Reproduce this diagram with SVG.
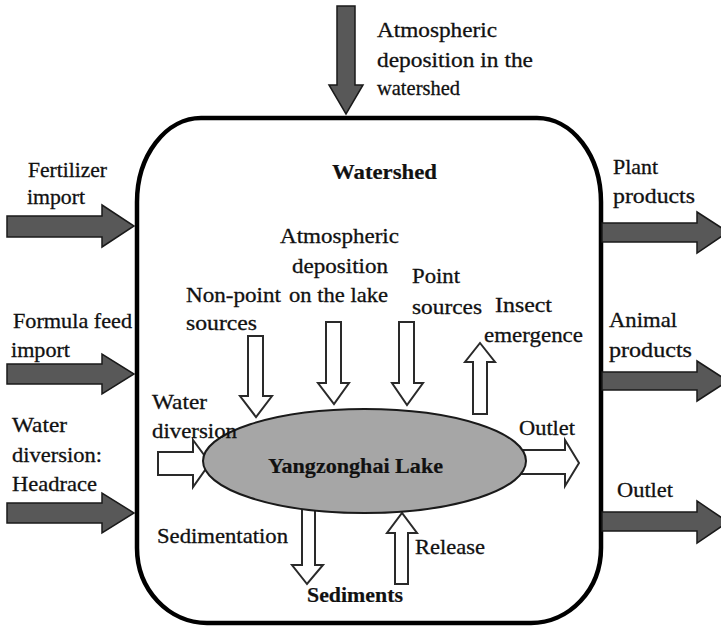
<svg xmlns="http://www.w3.org/2000/svg" width="721" height="628" viewBox="0 0 721 628">
<style>
text{font-family:'Liberation Serif','DejaVu Serif','Times New Roman',serif;font-size:21px;fill:#111;stroke:#111;stroke-width:0.3}
.b{font-weight:bold;stroke-width:0.2}
.dark{fill:#585858;stroke:#1a1a1a;stroke-width:1.5;stroke-linejoin:miter}
.white{fill:#fff;stroke:#2a2a2a;stroke-width:2;stroke-linejoin:miter}
.box{fill:none;stroke:#000;stroke-width:4.5}
.lake{fill:#a6a6a6;stroke:#1a1a1a;stroke-width:2}
</style>
<rect width="721" height="628" fill="#fff"/>
<g id="watershed">
<path class="box" d="M201,118 H537 A64 84 0 0 1 601 202 V548 A70 75 0 0 1 531 623 H207 A70 75 0 0 1 137 548 V202 A64 84 0 0 1 201 118 Z"/>
<text class="b" x="332" y="179" textLength="105" lengthAdjust="spacingAndGlyphs">Watershed</text>
</g>
<g id="connectors">
<polygon class="dark" points="337,6 355,6 355,85 363,85 346,114 329,85 337,85"/>
<polygon class="dark" points="7,216 102,216 102,205 134,226 102,247 102,237 7,237"/>
<polygon class="dark" points="7,364 102,364 102,354 134,374 102,394 102,384 7,384"/>
<polygon class="dark" points="7,503 102,503 102,493 134,513 102,533 102,523 7,523"/>
<polygon class="dark" points="602,223 697,223 697,212 728,232 697,253 697,242 602,242"/>
<polygon class="dark" points="602,372 697,372 697,361 728,381 697,401 697,390 602,390"/>
<polygon class="dark" points="602,512 697,512 697,501 728,522 697,543 697,531 602,531"/>
<polygon class="white" points="248,336 263,336 263,396 272,396 256,417 240,396 248,396"/>
<polygon class="white" points="326,322 341,322 341,383 349,383 334,404 318,383 326,383"/>
<polygon class="white" points="399,322 414,322 414,383 423,383 407,405 392,383 399,383"/>
<polygon class="white" points="473,414 487,414 487,362 495,362 480,343 465,362 473,362"/>
<polygon class="white" points="158,452 193,452 193,440 210,463 193,487 193,475 158,475"/>
<polygon class="white" points="520,450 565,450 565,440 579,463 565,486 565,474 520,474"/>
<polygon class="white" points="302,505 315,505 315,565 323,565 307,584 292,565 302,565"/>
<polygon class="white" points="395,584 408,584 408,533 417,533 402,513 387,533 395,533"/>
</g>
<g id="lake">
<ellipse class="lake" cx="364.5" cy="461" rx="161.5" ry="52"/>
<text class="b" x="268" y="473" textLength="175" lengthAdjust="spacingAndGlyphs">Yangzonghai Lake</text>
</g>
<g id="atm-watershed">
<text x="377" y="37" textLength="120" lengthAdjust="spacingAndGlyphs">Atmospheric</text>
<text x="377" y="67" textLength="156" lengthAdjust="spacingAndGlyphs">deposition in the</text>
<text x="377" y="95" textLength="83" lengthAdjust="spacingAndGlyphs">watershed</text>
</g>
<g id="fertilizer">
<text x="28" y="177" textLength="79" lengthAdjust="spacingAndGlyphs">Fertilizer</text>
<text x="27" y="204" textLength="58" lengthAdjust="spacingAndGlyphs">import</text>
</g>
<g id="formula">
<text x="13" y="328" textLength="119" lengthAdjust="spacingAndGlyphs">Formula feed</text>
<text x="11" y="357" textLength="59" lengthAdjust="spacingAndGlyphs">import</text>
</g>
<g id="headrace">
<text x="12" y="432" textLength="55" lengthAdjust="spacingAndGlyphs">Water</text>
<text x="12" y="462" textLength="90" lengthAdjust="spacingAndGlyphs">diversion:</text>
<text x="12" y="491" textLength="85" lengthAdjust="spacingAndGlyphs">Headrace</text>
</g>
<g id="plant">
<text x="613" y="174" textLength="45" lengthAdjust="spacingAndGlyphs">Plant</text>
<text x="613" y="203" textLength="82" lengthAdjust="spacingAndGlyphs">products</text>
</g>
<g id="animal">
<text x="609" y="327" textLength="68" lengthAdjust="spacingAndGlyphs">Animal</text>
<text x="609" y="357" textLength="83" lengthAdjust="spacingAndGlyphs">products</text>
</g>
<g id="outlet-ws">
<text x="617" y="497" textLength="56" lengthAdjust="spacingAndGlyphs">Outlet</text>
</g>
<g id="nonpoint">
<text x="186" y="302" textLength="95" lengthAdjust="spacingAndGlyphs">Non-point</text>
<text x="186" y="330" textLength="71" lengthAdjust="spacingAndGlyphs">sources</text>
</g>
<g id="atm-lake">
<text x="280" y="243" textLength="119" lengthAdjust="spacingAndGlyphs">Atmospheric</text>
<text x="292" y="273" textLength="96" lengthAdjust="spacingAndGlyphs">deposition</text>
<text x="289" y="302" textLength="99" lengthAdjust="spacingAndGlyphs">on the lake</text>
</g>
<g id="point">
<text x="412" y="283" textLength="48" lengthAdjust="spacingAndGlyphs">Point</text>
<text x="412" y="314" textLength="70" lengthAdjust="spacingAndGlyphs">sources</text>
</g>
<g id="insect">
<text x="495" y="312" textLength="57" lengthAdjust="spacingAndGlyphs">Insect</text>
<text x="484" y="342" textLength="99" lengthAdjust="spacingAndGlyphs">emergence</text>
</g>
<g id="water-div">
<text x="152" y="409" textLength="55" lengthAdjust="spacingAndGlyphs">Water</text>
<text x="152" y="438" textLength="85" lengthAdjust="spacingAndGlyphs">diversion</text>
</g>
<g id="outlet-lake">
<text x="519" y="435" textLength="56" lengthAdjust="spacingAndGlyphs">Outlet</text>
</g>
<g id="sedimentation">
<text x="157" y="543" textLength="131" lengthAdjust="spacingAndGlyphs">Sedimentation</text>
</g>
<g id="release">
<text x="415" y="554" textLength="70" lengthAdjust="spacingAndGlyphs">Release</text>
</g>
<g id="sediments">
<text class="b" x="307" y="602" textLength="96" lengthAdjust="spacingAndGlyphs">Sediments</text>
</g>
</svg>
